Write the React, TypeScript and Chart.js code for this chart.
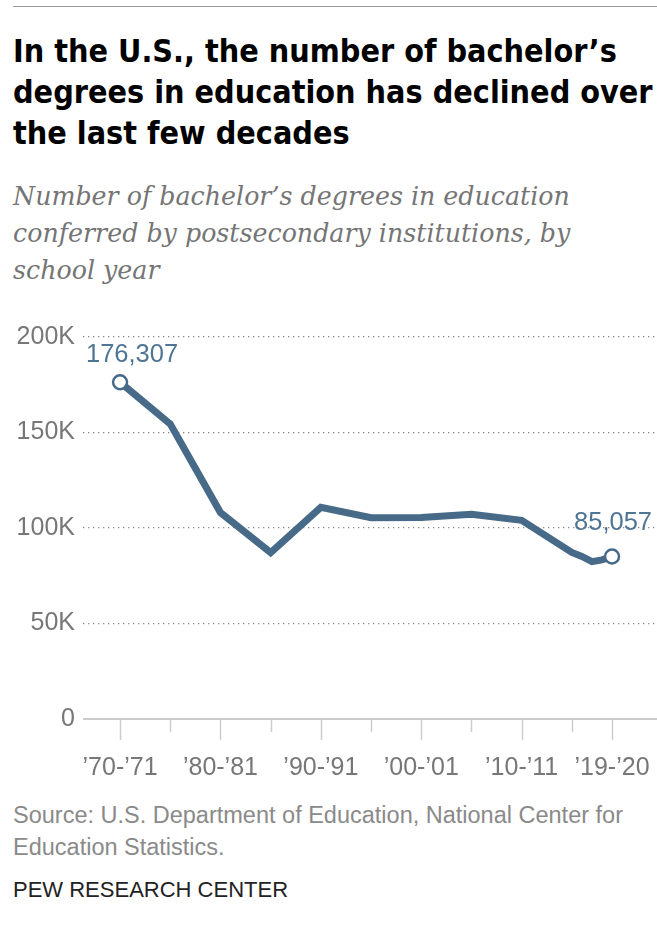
import React, { useEffect, useRef } from "react";
import { Chart, registerables } from "chart.js";

Chart.register(...registerables);

const titleLines = [
  "In the U.S., the number of bachelor\u2019s",
  "degrees in education has declined over",
  "the last few decades",
];
const subtitleLines = [
  "Number of bachelor\u2019s degrees in education",
  "conferred by postsecondary institutions, by",
  "school year",
];
const sourceLines = [
  "Source: U.S. Department of Education, National Center for",
  "Education Statistics.",
];
const brand = "PEW RESEARCH CENTER";

// school year start
const years = [1970, 1975, 1980, 1985, 1990, 1995, 2000, 2005, 2010, 2015, 2016, 2017, 2018, 2019];
const degrees = [176307, 154437, 108074, 87147, 110807, 105384, 105458, 107238, 104008, 87217, 85100, 82400, 83300, 85057];

const xMajorYears = [1970, 1980, 1990, 2000, 2010, 2019];
const xMajorLabels = ["\u201970-\u201971", "\u201980-\u201981", "\u201990-\u201991", "\u201900-\u201901", "\u201910-\u201911", "\u201919-\u201920"];
const xMinorYears = [1975, 1985, 1995, 2005, 2015];
const yTickValues = [0, 50000, 100000, 150000, 200000];
const yTickLabels = ["0", "50K", "100K", "150K", "200K"];

const LINE = "#466a88";
const LABEL_BLUE = "#4f7594";
const GRAY = "#777777";
const SANS = "'Liberation Sans', Arial, sans-serif";

const fmt = (v: number) => v.toLocaleString("en-US");

export default function App() {
  const ref = useRef<HTMLCanvasElement | null>(null);

  useEffect(() => {
    if (!ref.current) return;
    const axisPlugin = {
      id: "axisMarks",
      afterDraw(chart: any) {
        const { ctx, chartArea, scales } = chart;
        const x = scales.x;
        const y0 = scales.y.getPixelForValue(0);
        ctx.save();
        ctx.strokeStyle = "#cccccc";
        ctx.lineWidth = 2;
        ctx.beginPath();
        ctx.moveTo(chartArea.left, y0);
        ctx.lineTo(chartArea.right, y0);
        ctx.stroke();
        ctx.lineWidth = 1.5;
        const mark = (yr: number, len: number) => {
          const px = Math.round(x.getPixelForValue(yr)) + 0.5;
          ctx.beginPath();
          ctx.moveTo(px, y0);
          ctx.lineTo(px, y0 + len);
          ctx.stroke();
        };
        xMajorYears.forEach((yr) => mark(yr, 21));
        xMinorYears.forEach((yr) => mark(yr, 13));
        // value labels at first and last points
        const meta = chart.getDatasetMeta(0);
        const first = meta.data[0];
        const last = meta.data[meta.data.length - 1];
        ctx.fillStyle = LABEL_BLUE;
        ctx.font = `25.5px ${SANS}`;
        ctx.textAlign = "center";
        ctx.textBaseline = "middle";
        ctx.fillText(fmt(degrees[0]), first.x + 12, first.y - 27);
        ctx.fillText(fmt(degrees[degrees.length - 1]), last.x + 1, last.y - 34);
        ctx.restore();
      },
    };

    const chart: any = new Chart(ref.current, {
      type: "line",
      data: {
        datasets: [
          {
            data: years.map((yr, i) => ({ x: yr, y: degrees[i] })),
            borderColor: LINE,
            borderWidth: 7,
            tension: 0,
            pointRadius: (c: any) => (c.dataIndex === 0 || c.dataIndex === years.length - 1 ? 7 : 0),
            pointHoverRadius: 0,
            pointBackgroundColor: "#ffffff",
            pointBorderColor: LINE,
            pointBorderWidth: 2.5,
            clip: false as any,
          },
        ],
      },
      options: {
        animation: false,
        responsive: false,
        maintainAspectRatio: false,
        layout: { autoPadding: false, padding: { top: 27, left: 0, right: 0, bottom: 0 } },
        plugins: { legend: { display: false }, tooltip: { enabled: false } },
        scales: {
          x: {
            type: "linear",
            min: 1966.31,
            max: 2023.48,
            afterBuildTicks: (s: any) => {
              s.ticks = xMajorYears.map((v) => ({ value: v }));
            },
            afterFit: (s: any) => {
              s.height = 61;
              s.paddingLeft = 0;
              s.paddingRight = 0;
            },
            grid: { display: false },
            border: { display: false },
            ticks: {
              padding: 26,
              maxRotation: 0,
              autoSkip: false,
              color: GRAY,
              font: { family: SANS, size: 25 },
              callback: (v: any) => {
                const i = xMajorYears.indexOf(Number(v));
                return i >= 0 ? xMajorLabels[i] : "";
              },
            },
          },
          y: {
            min: 0,
            max: 200000,
            afterBuildTicks: (s: any) => {
              s.ticks = yTickValues.map((v) => ({ value: v }));
            },
            afterFit: (s: any) => {
              s.width = 83;
              s.paddingTop = 0;
              s.paddingBottom = 0;
            },
            grid: {
              drawTicks: false,
              color: (c: any) => (c.tick && c.tick.value === 0 ? "rgba(0,0,0,0)" : "#888888"),
              lineWidth: 1.3,
            },
            border: { display: false, dash: [1.3, 3.7] },
            ticks: {
              padding: 8,
              color: GRAY,
              font: { family: SANS, size: 25 },
              callback: (v: any) => {
                const i = yTickValues.indexOf(Number(v));
                return i >= 0 ? yTickLabels[i] : "";
              },
            },
          },
        },
      } as any,
      plugins: [axisPlugin],
    });
    return () => chart.destroy();
  }, []);

  return (
    <div style={{ position: "absolute", left: 0, top: 0, width: 657, height: 928, overflow: "hidden", background: "#fff" }}>
      <div style={{ position: "absolute", left: 13, right: 0, top: 6, height: 1, background: "#9a9a9a" }} />
      <div
        style={{
          position: "absolute",
          left: 13,
          top: 31,
          whiteSpace: "pre",
          fontFamily: "'DejaVu Sans', sans-serif",
          fontStretch: "condensed",
          fontWeight: 700,
          fontSize: 32,
          lineHeight: "41px",
          color: "#000",
        }}
      >
        {titleLines.map((l, i) => (
          <div key={i}>{l}</div>
        ))}
      </div>
      <div
        style={{
          position: "absolute",
          left: 13,
          top: 178,
          whiteSpace: "pre",
          fontFamily: "'DejaVu Serif', serif",
          fontStyle: "italic",
          fontSize: 25.3,
          lineHeight: "37px",
          color: "#757575",
        }}
      >
        {subtitleLines.map((l, i) => (
          <div key={i}>{l}</div>
        ))}
      </div>
      <canvas ref={ref} width={657} height={470} style={{ position: "absolute", left: 0, top: 310, width: 657, height: 470 }} />
      <div
        style={{
          position: "absolute",
          left: 13,
          top: 799,
          whiteSpace: "pre",
          fontFamily: SANS,
          fontSize: 23.5,
          lineHeight: "32px",
          color: "#8a8a8a",
        }}
      >
        {sourceLines.map((l, i) => (
          <div key={i}>{l}</div>
        ))}
      </div>
      <div
        style={{
          position: "absolute",
          left: 13,
          top: 874,
          whiteSpace: "pre",
          fontFamily: SANS,
          fontSize: 22,
          lineHeight: "32px",
          color: "#222",
        }}
      >
        {brand}
      </div>
    </div>
  );
}
